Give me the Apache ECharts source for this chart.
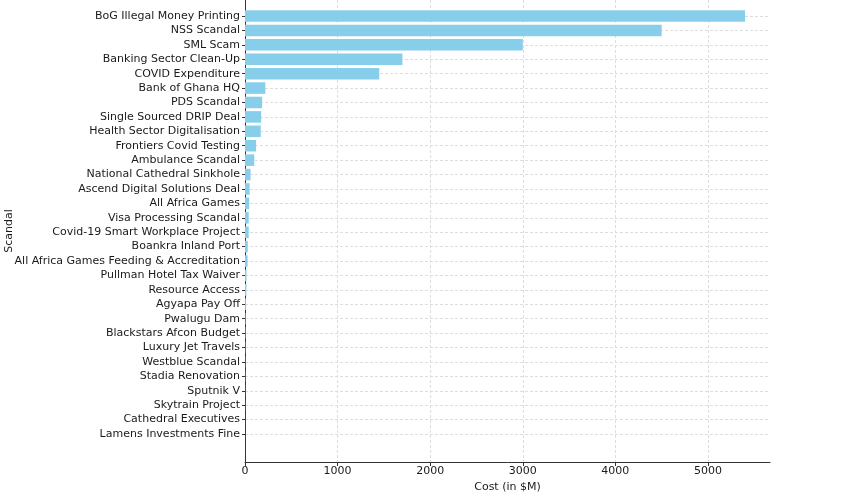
<!DOCTYPE html>
<html>
<head>
<meta charset="utf-8">
<script src="https://cdn.jsdelivr.net/npm/echarts@6/dist/echarts.min.js"></script>
<style>html,body{margin:0;padding:0;background:#fff}#c{width:867px;height:498px}</style>
</head>
<body>
<div id="c"></div>
<script>
const categories = [
  "BoG Illegal Money Printing", "NSS Scandal", "SML Scam", "Banking Sector Clean-Up",
  "COVID Expenditure", "Bank of Ghana HQ", "PDS Scandal", "Single Sourced DRIP Deal",
  "Health Sector Digitalisation", "Frontiers Covid Testing", "Ambulance Scandal",
  "National Cathedral Sinkhole", "Ascend Digital Solutions Deal", "All Africa Games",
  "Visa Processing Scandal", "Covid-19 Smart Workplace Project", "Boankra Inland Port",
  "All Africa Games Feeding & Accreditation", "Pullman Hotel Tax Waiver", "Resource Access",
  "Agyapa Pay Off", "Pwalugu Dam", "Blackstars Afcon Budget", "Luxury Jet Travels",
  "Westblue Scandal", "Stadia Renovation", "Sputnik V", "Skytrain Project",
  "Cathedral Executives", "Lamens Investments Fine"
];
const costs = [
  5400, 4500, 3000, 1700,
  1450, 220, 185, 175,
  170, 120, 100,
  60, 50, 45,
  40, 40, 30,
  28, 16, 15,
  10, 6, 5, 4,
  3, 3, 2, 2,
  1, 1
];
const xTicks = [0, 1000, 2000, 3000, 4000, 5000];
const xMax = 5670;

const font = 'DejaVu Sans';
const chart = echarts.init(document.getElementById('c'), null, {renderer: 'canvas'});
chart.setOption({
  animation: false,
  backgroundColor: '#fff',
  textStyle: {fontFamily: font},
  grid: [
    {left: 245, right: 97, top: 16, bottom: 64, containLabel: false, outerBoundsMode: 'none'},
    {left: 245, right: 97, top: 0, bottom: 36, containLabel: false, outerBoundsMode: 'none'}
  ],
  xAxis: [
    {gridIndex: 0, type: 'value', min: 0, max: xMax, show: false},
    {
      gridIndex: 1, type: 'value', min: 0, max: xMax, interval: 1000,
      axisLine: {show: true, lineStyle: {color: '#333', width: 1}},
      axisTick: {show: true, length: 4, lineStyle: {color: '#333'}, customValues: xTicks},
      axisLabel: {color: '#1a1a1a', fontSize: 11, fontFamily: font, margin: 4, customValues: xTicks,
        formatter: v => String(v)},
      splitLine: {show: true, lineStyle: {color: '#ddd', type: [3, 2], width: 1}},
      name: 'Cost (in $M)', nameLocation: 'middle', nameGap: 19,
      nameTextStyle: {color: '#1a1a1a', fontSize: 11, fontFamily: font}
    }
  ],
  yAxis: [
    {
      gridIndex: 0, type: 'category', data: categories, inverse: true, boundaryGap: false,
      axisLine: {show: false},
      axisTick: {show: true, length: 3, lineStyle: {color: '#333'}},
      axisLabel: {color: '#1a1a1a', fontSize: 11, fontFamily: font, margin: 5, interval: 0},
      splitLine: {show: true, lineStyle: {color: '#ddd', type: [3, 2], width: 1}}
    },
    {
      gridIndex: 1, type: 'value', min: 0, max: 1,
      axisLine: {show: true, lineStyle: {color: '#333', width: 1}},
      axisTick: {show: false}, axisLabel: {show: false}, splitLine: {show: false},
      name: 'Scandal', nameLocation: 'middle', nameGap: 230, nameRotate: 90,
      nameTextStyle: {color: '#1a1a1a', fontSize: 11, fontFamily: font}
    }
  ],
  series: [{
    type: 'bar', xAxisIndex: 0, yAxisIndex: 0,
    data: costs, barCategoryGap: '20%',
    itemStyle: {color: '#87CEEB'}
  }]
});
</script>
</body>
</html>
